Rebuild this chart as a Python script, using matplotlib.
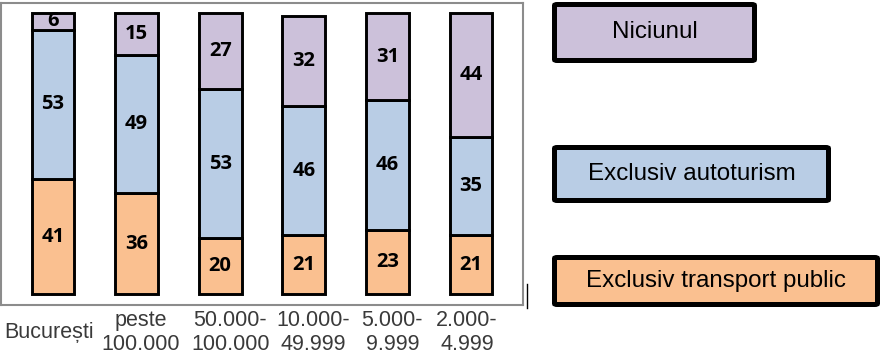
import matplotlib
matplotlib.use("Agg")
import matplotlib.pyplot as plt
from matplotlib.patches import FancyBboxPatch
from matplotlib.lines import Line2D
from matplotlib.transforms import ScaledTranslation
import numpy as np

categories = ["București", "peste\n100.000", "50.000-\n100.000", "10.000-\n49.999", "5.000-\n9.999", "2.000-\n4.999"]
series_names = ["Exclusiv transport public", "Exclusiv autoturism", "Niciunul"]
transport_public = [41, 36, 20, 21, 23, 21]
autoturism = [53, 49, 53, 46, 46, 35]
niciunul = [6, 15, 27, 32, 31, 44]
colors = ["#FAC090", "#B9CDE5", "#CCC1DA"]

W, H = 892, 357
fig = plt.figure(figsize=(W / 100, H / 100), dpi=100)
ax = fig.add_axes([1 / W, (H - 305) / H, 522 / W, 302 / H])

x = np.arange(len(categories))
series = [transport_public, autoturism, niciunul]
bottom = np.zeros(len(categories))
for vals, col in zip(series, colors):
    vals = np.array(vals, dtype=float)
    ax.bar(x, vals, bottom=bottom, width=0.514, color=col, edgecolor="black", linewidth=2.1, zorder=3)
    for xi, b, v in zip(x, bottom, vals):
        ax.text(xi, b + v / 2, f"{int(v)}", ha="center", va="center",
                fontsize=14.5, fontweight="bold", family="Open Sans", color="black", zorder=4)
    bottom += vals

ax.set_xlim(-0.622, 5.622)
ax.set_ylim(-3.73, 103.55)
ax.set_yticks([])
for s in ax.spines.values():
    s.set_color("#8C8C8C")
    s.set_linewidth(1.5)

ax.set_xticks(x)
ax.set_xticklabels(categories, fontsize=15.5, family="Liberation Sans", color="#3A3A3A", linespacing=1.18)
ax.tick_params(axis="x", length=0, pad=19.5)
offsets = [-4, 4.5, 10, 9, 5, -4]
for lab, dx in zip(ax.get_xticklabels(), offsets):
    lab.set_verticalalignment("center")
    lab.set_transform(lab.get_transform() + ScaledTranslation(dx / 100, 0, fig.dpi_scale_trans))

# legend boxes (figure pixel coordinates, top-left origin)
boxes = [(552, 757, 2, 63), (552, 831, 145, 203), (552, 880, 255, 307)]
legend_order = [2, 1, 0]
for (x0, x1, y0, y1), idx in zip(boxes, legend_order):
    inset = 2.5
    bx0, bx1 = x0 + inset, x1 - inset
    by0, by1 = y0 + inset, y1 - inset
    patch = FancyBboxPatch((bx0 / W, 1 - by1 / H), (bx1 - bx0) / W, (by1 - by0) / H,
                           boxstyle="round,pad=0,rounding_size=0.003",
                           transform=fig.transFigure, facecolor=colors[idx],
                           edgecolor="black", linewidth=3.6)
    fig.add_artist(patch)
    fig.text((x0 + x1) / 2 / W, 1 - (y0 + y1) / 2 / H, series_names[idx],
             ha="center", va="center", fontsize=17.4, family="Liberation Sans", color="black")

fig.add_artist(Line2D([527 / W, 527 / W], [1 - 284 / H, 1 - 308 / H],
                      transform=fig.transFigure, color="black", linewidth=1))

fig.savefig("out.png", dpi=100)
